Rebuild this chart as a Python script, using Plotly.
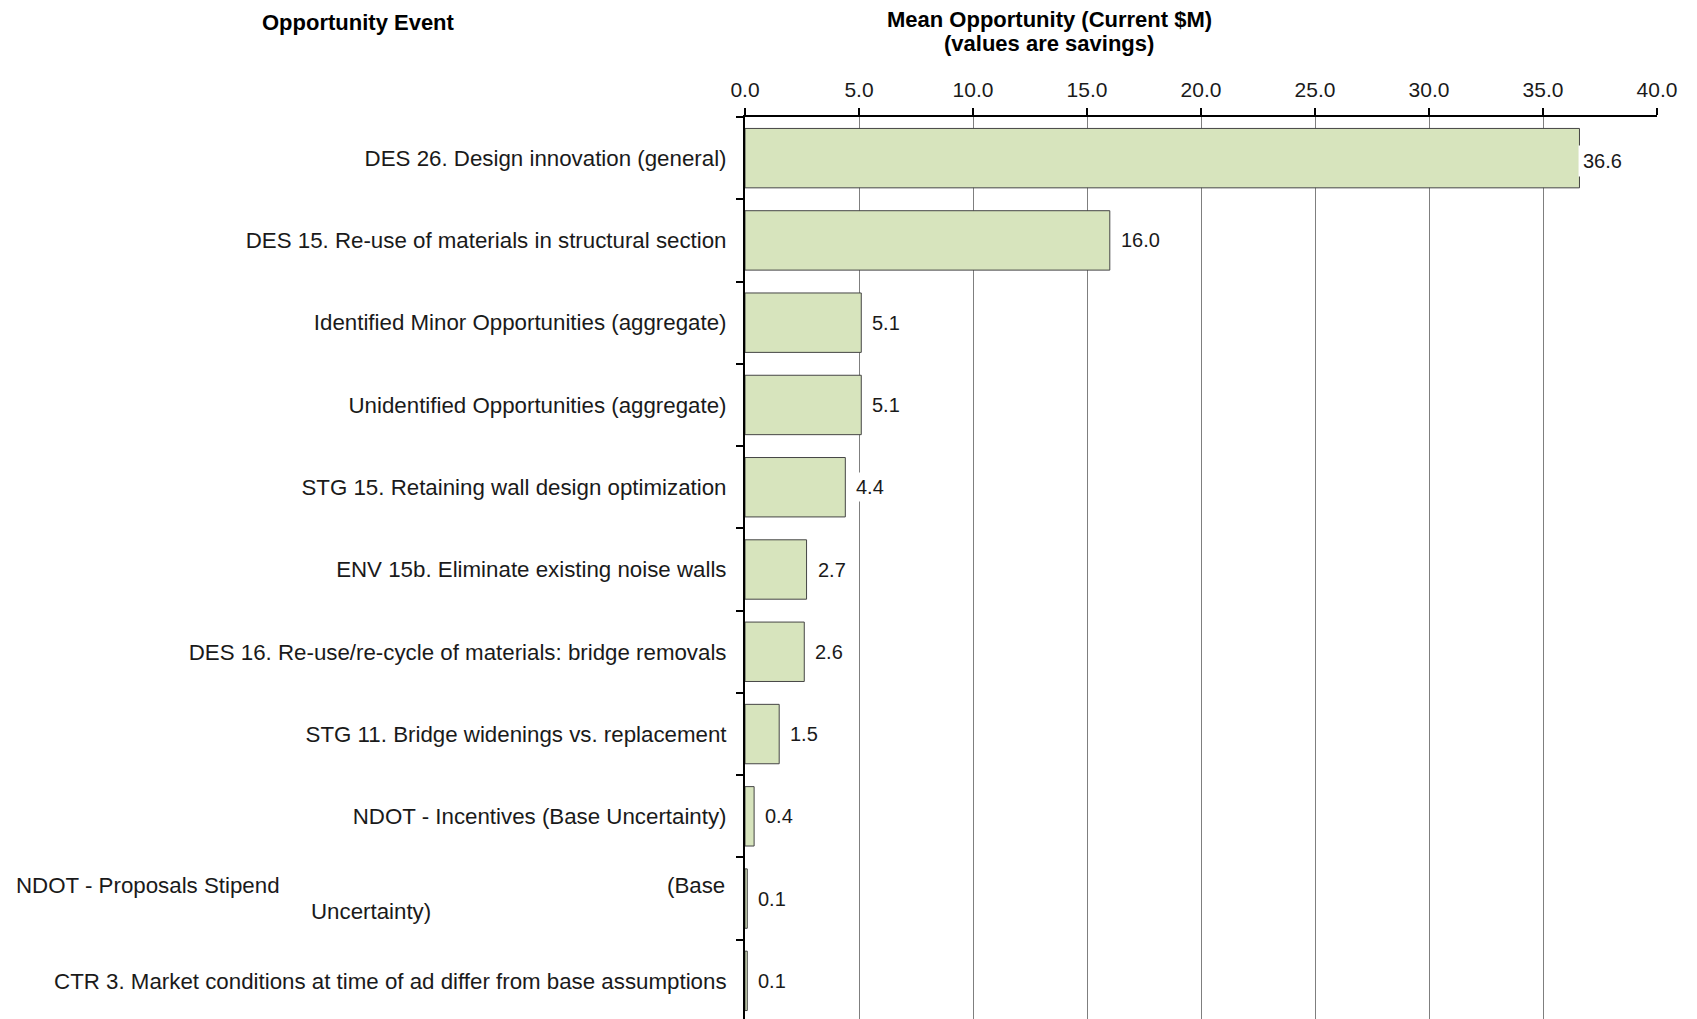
import plotly.graph_objects as go

# Opportunity events, top to bottom, with their mean savings (current $M)
categories = [
    "DES 26. Design innovation (general)",
    "DES 15. Re-use of materials in structural section",
    "Identified Minor Opportunities (aggregate)",
    "Unidentified Opportunities (aggregate)",
    "STG 15. Retaining wall design optimization",
    "ENV 15b. Eliminate existing noise walls",
    "DES 16. Re-use/re-cycle of materials: bridge removals",
    "STG 11. Bridge widenings vs. replacement",
    "NDOT - Incentives (Base Uncertainty)",
    "NDOT - Proposals Stipend (Base Uncertainty)",
    "CTR 3. Market conditions at time of ad differ from base assumptions",
]
values = [36.6, 16.0, 5.1, 5.1, 4.4, 2.7, 2.6, 1.5, 0.4, 0.1, 0.1]

x_ticks = [0, 5, 10, 15, 20, 25, 30, 35, 40]
x_tick_labels = ["0.0", "5.0", "10.0", "15.0", "20.0", "25.0", "30.0", "35.0", "40.0"]

# the stipend label is laid out by hand in three pieces
wrapped_category = "NDOT - Proposals Stipend (Base Uncertainty)"
wrapped_pieces = ["NDOT - Proposals Stipend", "(Base", "Uncertainty)"]

header_left = "Opportunity Event"
header_main = "Mean Opportunity (Current $M)"
header_sub = "(values are savings)"

W, H = 1697, 1019
ML, MR, MT, MB = 745, 40, 117, 0
PW, PH = W - ML - MR, H - MT - MB
FONT = "Liberation Sans, Arial, sans-serif"


def px_x(px):
    return (px - ML) / PW


def px_y(py):
    return 1 + (MT - py) / PH


fig = go.Figure(
    go.Bar(
        x=values,
        y=categories,
        orientation="h",
        marker=dict(color="#D7E4BD", line=dict(color="#454545", width=1)),
        hoverinfo="x+y",
    )
)

annotations = []
vmax = max(values)
for cat, v in zip(categories, values):
    top = v == vmax
    annotations.append(dict(
        x=v, y=cat, xref="x", yref="y",
        text=f"{v:.1f}", showarrow=False,
        xanchor="left", yanchor="middle",
        xshift=-1 if top else 7,
        yshift=-3 if top else 0,
        bgcolor="white", borderpad=4 if top else 3,
        font=dict(family=FONT, size=20, color="#1a1a1a"),
    ))

lbl_font = dict(family=FONT, size=22.3, color="#1a1a1a")
annotations += [
    dict(x=px_x(14), y=wrapped_category, xref="paper", yref="y", yshift=13,
         text=wrapped_pieces[0], showarrow=False, xanchor="left", yanchor="middle", font=lbl_font),
    dict(x=px_x(727), y=wrapped_category, xref="paper", yref="y", yshift=13,
         text=wrapped_pieces[1], showarrow=False, xanchor="right", yanchor="middle", font=lbl_font),
    dict(x=px_x(371), y=wrapped_category, xref="paper", yref="y", yshift=-13,
         text=wrapped_pieces[2], showarrow=False, xanchor="center", yanchor="middle", font=lbl_font),
]

head_font = dict(family=FONT, size=22, color="black")
annotations += [
    dict(x=px_x(358), y=px_y(23), xref="paper", yref="paper", text=f"<b>{header_left}</b>",
         showarrow=False, xanchor="center", yanchor="middle", font=head_font),
    dict(x=px_x(1049), y=px_y(19.5), xref="paper", yref="paper", text=f"<b>{header_main}</b>",
         showarrow=False, xanchor="center", yanchor="middle", font=head_font),
    dict(x=px_x(1049), y=px_y(44), xref="paper", yref="paper", text=f"<b>{header_sub}</b>",
         showarrow=False, xanchor="center", yanchor="middle", font=head_font),
]

tick_text = ["" if c == wrapped_category else c for c in categories]

fig.update_layout(
    width=W, height=H,
    margin=dict(l=ML, r=MR, t=MT, b=MB, pad=0),
    paper_bgcolor="white", plot_bgcolor="white",
    bargap=0.278,
    showlegend=False,
    annotations=annotations,
    xaxis=dict(
        side="top", range=[0, 40],
        tickvals=x_ticks, ticktext=x_tick_labels,
        ticks="outside", ticklen=7, tickwidth=1.5, tickcolor="black",
        ticklabelstandoff=3,
        showline=True, linecolor="black", linewidth=2,
        showgrid=True, gridcolor="#7f7f7f", gridwidth=1,
        zeroline=False,
        tickfont=dict(family=FONT, size=21, color="#1a1a1a"),
    ),
    yaxis=dict(
        type="category",
        categoryorder="array", categoryarray=categories,
        tickvals=categories, ticktext=tick_text,
        range=[len(categories) - 0.5 - 3 / 82.26, -0.5],
        tickson="boundaries",
        ticks="outside", ticklen=7, tickwidth=1.5, tickcolor="black",
        ticklabelstandoff=12,
        showline=True, linecolor="black", linewidth=2,
        showgrid=False, zeroline=False,
        tickfont=lbl_font,
    ),
)

fig.write_html("out.html")
